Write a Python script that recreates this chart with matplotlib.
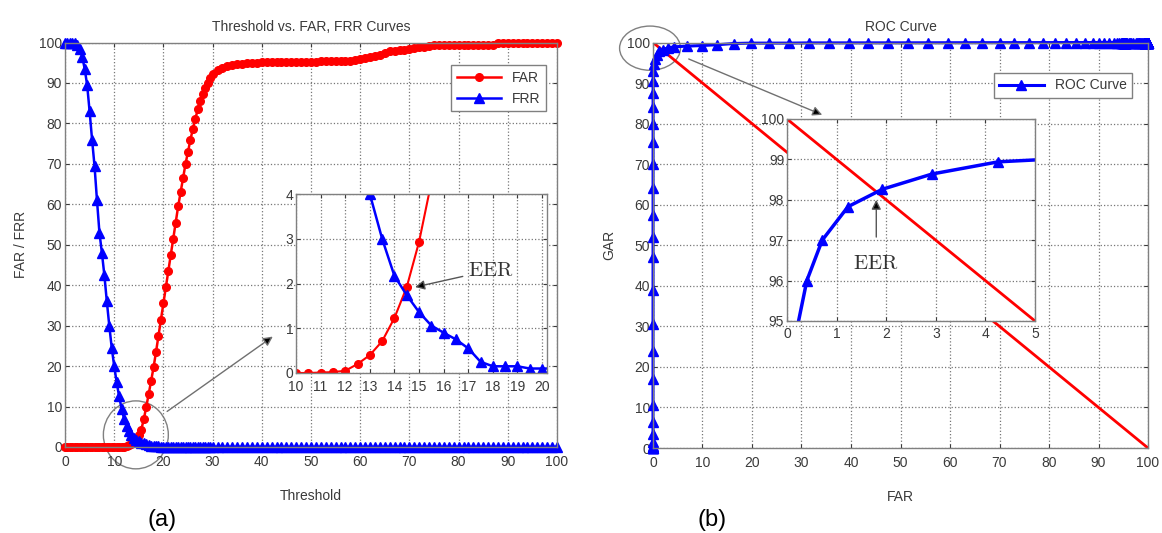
import numpy as np
import matplotlib
matplotlib.use("Agg")
import matplotlib.pyplot as plt
from matplotlib.patches import Ellipse

plt.rcParams['font.family'] = ['Liberation Sans', 'DejaVu Sans']
plt.rcParams['mathtext.fontset'] = 'cm'

# threshold grid: 0.5 steps up to 30, then unit steps
threshold = np.concatenate([np.arange(0, 30.5, 0.5), np.arange(31, 101, 1)])

far = [0, 0, 0, 0, 0, 0, 0, 0, 0, 0, 0, 0, 0, 0, 0, 0, 0, 0, 0, 0, 0,
       0, 0.01, 0.02, 0.05, 0.2, 0.4, 0.71, 1.23, 1.92, 2.93, 4.26,
       6.8, 9.8, 13, 16.3, 19.7, 23.5, 27.5, 31.5, 35.5, 39.5, 43.5, 47.5, 51.5,
       55.5, 59.5, 63, 66.5, 70, 73, 76, 78.7, 81.2, 83.5, 85.5, 87.3, 88.8,
       90, 91.2, 92.2,
       93.2, 93.8, 94.2, 94.5, 94.7, 94.8, 94.9, 95, 95, 95.1, 95.1, 95.2, 95.2,
       95.2, 95.2, 95.3, 95.3, 95.3, 95.3, 95.3, 95.3, 95.4, 95.4, 95.4, 95.4,
       95.4, 95.5, 95.5, 95.6, 95.8, 96.2, 96.4, 96.6, 97, 97.5, 97.8, 98, 98.1,
       98.2, 98.4, 98.6, 98.8, 99, 99.2, 99.3, 99.4,
       99.4, 99.4, 99.4, 99.4, 99.4, 99.4, 99.4, 99.4, 99.4, 99.4, 99.5,
       99.8, 100,
       100, 100, 100, 100, 100, 100, 100, 100, 100, 100, 100]

frr = [100, 100, 100, 100, 100, 99.5, 98.5, 96.5, 93.5, 89.5, 83, 76, 69.5,
       61, 53, 48, 42.5, 36, 30, 24.5, 20,
       16, 12.5, 9.5, 7, 5.2, 4.0, 3.0, 2.17, 1.74, 1.36, 1.06,
       0.9, 0.75, 0.55, 0.25, 0.15, 0.15, 0.15, 0.1, 0.1, 0.1, 0.1, 0.08, 0.08,
       0.06, 0.06, 0.05, 0.05, 0.04, 0.03, 0.03, 0.02, 0.02, 0.02, 0.01, 0.01,
       0.01, 0, 0, 0] + [0.0] * 70

far = np.array(far)
frr = np.array(frr)
gar = 100 - frr

eer_line_x = [0, 100]
eer_line_y = [100, 0]

RED = '#ff0000'
BLUE = '#0000ff'
TXT = '#3a3a3a'
GRID = '#777777'
EDGE = '#808080'


def style_axes(ax, size=10, xpad=2):
    ax.grid(True, ls=':', color=GRID, lw=0.9)
    ax.tick_params(direction='in', length=3, labelsize=size, colors=TXT,
                   top=True, right=True, pad=2)
    ax.tick_params(axis='x', pad=xpad)
    for s in ax.spines.values():
        s.set_color(EDGE)
        s.set_linewidth(1.0)


fig = plt.figure(figsize=(11.62, 5.33), dpi=100)

# ---------- (a) Threshold vs FAR / FRR ----------
ax1 = fig.add_axes([65 / 1162, 1 - 447 / 533, 492 / 1162, 404.5 / 533])
ax1.plot(threshold, far, '-o', color=RED, lw=1.8, ms=5.5, label='FAR', clip_on=False)
ax1.plot(threshold, frr, '-^', color=BLUE, lw=1.8, ms=6.5, label='FRR', clip_on=False)
ax1.set_xlim(0, 100)
ax1.set_ylim(0, 100)
ax1.set_xticks(range(0, 101, 10))
ax1.set_yticks(range(0, 101, 10))
style_axes(ax1, xpad=6)
ax1.set_title('Threshold vs. FAR, FRR Curves', fontsize=10, color=TXT, pad=8)
ax1.set_xlabel('Threshold', fontsize=10, color=TXT, labelpad=14)
ax1.set_ylabel('FAR / FRR', fontsize=10, color=TXT, labelpad=8)
leg = ax1.legend(loc='upper right', bbox_to_anchor=(0.978, 0.944), borderaxespad=0,
                 fontsize=10, fancybox=False, handlelength=3.2, framealpha=1)
leg.get_frame().set_edgecolor(EDGE)
for t in leg.get_texts():
    t.set_color(TXT)

ax1.add_patch(Ellipse((14.4, 3), 13.2, 16.8, fill=False, ec=EDGE, lw=1, clip_on=False))
ax1.annotate('', xy=(42.7, 27.7), xytext=(20.3, 8.4),
             arrowprops=dict(arrowstyle='-|>', ec='#707070', fc='black', lw=1,
                             mutation_scale=14))

ins1 = fig.add_axes([296 / 1162, 1 - 373 / 533, 251 / 1162, 179 / 533])
ins1.plot(threshold, far, '-o', color=RED, lw=1.5, ms=5.5)
ins1.plot(threshold, frr, '-^', color=BLUE, lw=1.8, ms=6.5)
ins1.set_xlim(10, 20.2)
ins1.set_ylim(0, 4)
ins1.set_xticks(range(10, 21))
ins1.set_yticks(range(0, 5))
style_axes(ins1, xpad=5)
ins1.annotate(r'$\mathrm{EER}$', xy=(14.84, 1.92), xytext=(17.0, 2.3),
              fontsize=15, color='#333333', va='center', ha='left',
              arrowprops=dict(arrowstyle='-|>', ec='#555555', fc='black', lw=1,
                              mutation_scale=14, shrinkA=2, shrinkB=0))

# ---------- (b) ROC curve ----------
ax2 = fig.add_axes([653 / 1162, 1 - 448 / 533, 495 / 1162, 405.5 / 533])
ax2.plot(eer_line_x, eer_line_y, '-', color=RED, lw=2)
ax2.plot(far, gar, '-^', color=BLUE, lw=2.2, ms=6.5, label='ROC Curve', clip_on=False)
ax2.set_xlim(0, 100)
ax2.set_ylim(0, 100)
ax2.set_xticks(range(0, 101, 10))
ax2.set_yticks(range(0, 101, 10))
style_axes(ax2, xpad=6)
ax2.set_title('ROC Curve', fontsize=10, color=TXT, pad=8)
ax2.set_xlabel('FAR', fontsize=10, color=TXT, labelpad=14)
ax2.set_ylabel('GAR', fontsize=10, color=TXT, labelpad=8)
leg2 = ax2.legend(loc='upper right', bbox_to_anchor=(0.968, 0.925), borderaxespad=0,
                  fontsize=10, fancybox=False, handlelength=3.2, framealpha=1)
leg2.get_frame().set_edgecolor(EDGE)
for t in leg2.get_texts():
    t.set_color(TXT)

ax2.add_patch(Ellipse((-0.6, 98.6), 12.3, 10.9, fill=False, ec=EDGE, lw=1, clip_on=False))
ax2.annotate('', xy=(34.7, 81.9), xytext=(6.7, 96.2),
             arrowprops=dict(arrowstyle='-|>', ec='#707070', fc='black', lw=1,
                             mutation_scale=14))

ins2 = fig.add_axes([787 / 1162, 1 - 321 / 533, 248 / 1162, 202 / 533])
ins2.plot(eer_line_x, eer_line_y, '-', color=RED, lw=2)
ins2.plot(far, gar, '-^', color=BLUE, lw=2.5, ms=7)
ins2.set_xlim(0, 5)
ins2.set_ylim(95, 100)
ins2.set_xticks(range(0, 6))
ins2.set_yticks(range(95, 101))
style_axes(ins2, xpad=4)
ins2.annotate(r'$\mathrm{EER}$', xy=(1.8, 98.0), xytext=(1.8, 96.43),
              fontsize=15, color='#333333', va='center', ha='center',
              arrowprops=dict(arrowstyle='-|>', ec='#555555', fc='black', lw=1,
                              mutation_scale=14, shrinkA=10, shrinkB=0))

fig.text(162 / 1162, 1 - 520 / 533, '(a)', fontsize=17, ha='center', va='center')
fig.text(712 / 1162, 1 - 520 / 533, '(b)', fontsize=17, ha='center', va='center')

fig.savefig('out.png', dpi=100)
